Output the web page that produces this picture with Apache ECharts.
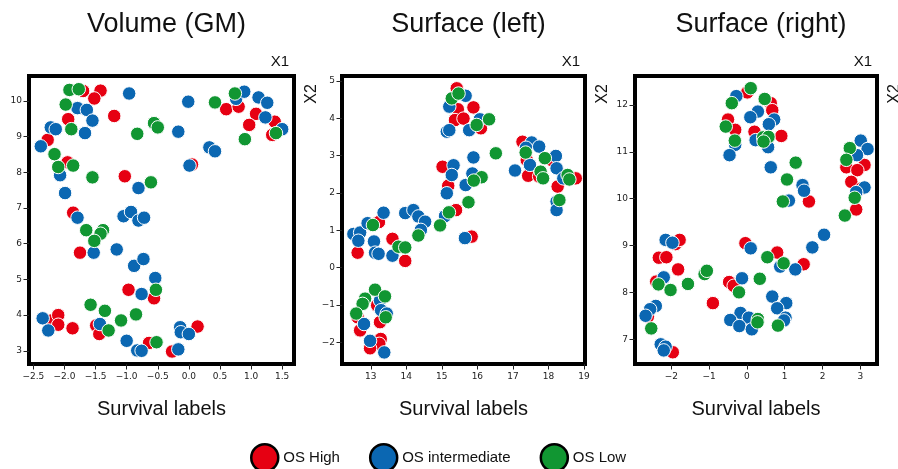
<!DOCTYPE html>
<html>
<head>
<meta charset="utf-8">
<script src="https://cdn.jsdelivr.net/npm/echarts@6/dist/echarts.min.js"></script>
<style>html,body{margin:0;padding:0;background:#fff}#c{width:898px;height:469px}</style>
</head>
<body>
<div id="c"></div>
<script>
// ---------- data ----------
const panelTitles = ['Volume (GM)', 'Surface (left)', 'Surface (right)'];
const classNames = ['OS High', 'OS intermediate', 'OS Low'];
const classColors = ['#e60012', '#0b67b2', '#119632'];

const volHigh = [[-1.70,10.28],[-1.42,10.29],[-1.52,10.07],[-1.20,9.58],[-1.94,9.49],[-2.27,8.91],[-1.95,8.28],[-1.03,7.89],[0.05,8.22],[0.60,9.77],[0.80,9.84],[1.08,9.64],[0.97,9.33],[1.38,9.42],[1.34,9.05],[-1.86,6.87],[-1.75,5.75],[-0.97,4.71],[-0.56,4.47],[-2.21,3.85],[-2.10,4.00],[-2.10,3.73],[-1.87,3.63],[-1.49,3.71],[-1.44,3.47],[-0.64,3.22],[-0.27,2.98],[0.14,3.68]];
const volInter = [[-1.79,9.80],[-1.64,9.75],[-0.96,10.21],[-1.55,9.45],[-2.22,9.26],[-2.14,9.21],[-1.67,9.10],[-2.38,8.73],[-2.07,7.92],[-1.99,7.42],[-0.81,7.56],[-0.17,9.14],[-0.01,9.98],[0.01,8.19],[0.33,8.70],[0.42,8.59],[0.76,10.06],[0.89,10.26],[1.12,10.10],[1.26,9.95],[1.23,9.54],[1.50,9.21],[-1.79,6.73],[-1.05,6.77],[-0.93,6.89],[-0.81,6.65],[-0.72,6.73],[-1.53,5.75],[-1.16,5.84],[-0.88,5.38],[-0.73,5.57],[-0.54,5.04],[-0.76,4.59],[-2.35,3.91],[-2.26,3.57],[-1.43,3.75],[-1.00,3.28],[-0.83,3.01],[-0.76,3.00],[-0.17,3.04],[-0.14,3.66],[-0.13,3.52],[0.00,3.47]];
const volLow = [[-1.92,10.31],[-1.77,10.33],[-1.98,9.90],[-1.89,9.21],[-2.16,8.51],[-2.10,8.15],[-1.86,8.19],[-1.55,7.86],[-0.61,7.72],[-0.56,9.38],[-0.50,9.26],[-0.83,9.08],[0.42,9.96],[0.74,10.21],[1.40,9.10],[0.90,8.93],[-1.65,6.38],[-1.38,6.38],[-1.42,6.28],[-1.52,6.08],[-0.53,4.71],[-1.58,4.29],[-1.35,4.12],[-0.85,4.02],[-1.09,3.85],[-1.29,3.57],[-0.52,3.24]];

const leftHigh = [[15.42,4.80],[15.45,4.24],[15.89,4.29],[15.37,3.95],[15.61,3.99],[16.10,3.73],[15.02,2.70],[15.18,2.19],[15.40,1.54],[15.84,0.83],[12.63,0.40],[13.23,1.22],[13.61,0.77],[13.97,0.18],[13.18,-1.01],[12.63,-1.33],[13.26,-1.46],[12.70,-1.68],[13.28,-1.91],[13.24,-2.04],[12.98,-2.16],[17.27,3.37],[17.39,2.88],[17.43,2.46],[18.09,2.88],[17.74,2.44],[18.77,2.39],[18.26,2.17]];
const leftInter = [[15.67,4.60],[15.21,4.31],[15.14,3.64],[15.21,3.68],[15.77,3.68],[16.07,3.97],[15.33,2.74],[15.28,2.48],[15.14,1.99],[15.89,2.95],[15.86,2.52],[15.67,2.21],[15.09,1.38],[15.65,0.79],[12.51,0.90],[12.70,0.94],[12.65,0.72],[12.91,1.19],[13.36,1.47],[13.09,0.70],[13.12,0.40],[13.22,0.37],[13.61,0.32],[13.97,1.46],[14.20,1.54],[14.34,1.37],[14.53,1.23],[14.41,1.01],[13.26,-0.88],[13.29,-1.14],[13.45,-1.23],[12.81,-1.51],[12.98,-1.96],[13.38,-2.27],[17.53,3.35],[17.37,3.21],[17.48,2.75],[17.06,2.60],[17.74,3.24],[18.21,2.99],[18.23,2.66],[18.42,2.39],[18.23,1.77],[18.23,1.54]];
const leftLow = [[15.28,4.53],[15.47,4.66],[15.98,3.82],[16.33,3.97],[16.12,2.42],[15.90,2.33],[16.52,3.06],[15.75,1.75],[15.20,1.48],[14.95,1.13],[13.06,1.14],[13.78,0.56],[13.97,0.54],[14.34,0.86],[13.12,-0.59],[12.84,-0.83],[12.77,-0.97],[13.40,-0.77],[12.59,-1.23],[13.42,-1.33],[17.36,3.08],[17.90,2.93],[17.78,2.57],[17.85,2.39],[18.54,2.48],[18.59,2.36],[18.31,1.81]];

const rightHigh = [[0.01,12.27],[0.63,12.04],[0.67,11.89],[-0.50,11.69],[-0.31,11.47],[0.20,11.43],[0.91,11.34],[1.64,9.94],[2.63,10.67],[3.11,10.72],[2.92,10.61],[2.76,10.36],[3.03,10.22],[2.89,9.77],[-0.04,9.05],[0.80,8.85],[1.50,8.60],[-0.47,8.22],[-0.35,8.14],[-0.90,7.77],[-1.89,9.03],[-1.78,9.12],[-2.33,8.74],[-2.13,8.75],[-1.82,8.49],[-2.40,8.23],[-2.62,7.48],[-1.96,6.72]];
const rightInter = [[-0.28,12.19],[0.29,11.86],[0.09,11.74],[0.72,11.69],[0.58,11.59],[0.23,11.25],[-0.31,11.15],[0.56,11.10],[-0.46,10.93],[0.63,10.67],[1.47,10.29],[1.51,10.17],[1.11,9.96],[3.01,11.24],[3.19,11.06],[2.91,10.93],[3.11,10.24],[2.89,10.14],[2.04,9.23],[1.73,8.96],[0.10,8.94],[0.88,8.55],[1.28,8.49],[-0.13,8.30],[0.67,7.91],[1.04,7.77],[0.80,7.66],[-0.17,7.56],[0.05,7.46],[-0.44,7.41],[-0.20,7.28],[0.13,7.21],[1.02,7.46],[0.98,7.40],[-2.15,9.12],[-1.97,9.06],[-2.20,8.32],[-2.41,7.71],[-2.56,7.64],[-2.68,7.50],[-2.28,6.89],[-2.15,6.84],[-2.20,6.76]];
const rightLow = [[0.10,12.36],[-0.40,12.04],[0.47,12.13],[-0.56,11.54],[0.43,11.31],[0.57,11.32],[-0.32,11.24],[0.44,11.22],[1.29,10.77],[1.06,10.41],[0.95,9.94],[2.72,11.08],[2.63,10.83],[2.85,10.02],[2.59,9.64],[0.54,8.75],[0.97,8.62],[0.34,8.29],[-0.21,8.00],[-1.12,8.39],[-1.06,8.46],[0.29,7.43],[0.28,7.36],[0.82,7.29],[-2.34,8.17],[-2.02,8.05],[-1.56,8.18],[-2.53,7.23]];

const volXTicks = [-2.5,-2.0,-1.5,-1.0,-0.5,0.0,0.5,1.0,1.5];
const volYTicks = [3,4,5,6,7,8,9,10];
const leftXTicks = [13,14,15,16,17,18,19];
const leftYTicks = [-2,-1,0,1,2,3,4,5];
const rightXTicks = [-2,-1,0,1,2,3];
const rightYTicks = [7,8,9,10,11,12];

// ---------- layout ----------
const panels = [
  {grid:{left:29, top:76, width:265, height:288}, x:[-2.57,1.69], y:[2.63,10.70], xt:volXTicks, yt:volYTicks, dec:1, data:[volHigh,volInter,volLow]},
  {grid:{left:342, top:76, width:243, height:288}, x:[12.19,19.03], y:[-2.58,5.13], xt:leftXTicks, yt:leftYTicks, dec:0, data:[leftHigh,leftInter,leftLow]},
  {grid:{left:635, top:76, width:242, height:288}, x:[-2.96,3.44], y:[6.47,12.62], xt:rightXTicks, yt:rightYTicks, dec:0, data:[rightHigh,rightInter,rightLow]}
];
const fmt = (v, d) => (d ? v.toFixed(d) : String(Math.round(v))).replace('-', '\u2212');
const tickFont = {fontFamily:'DejaVu Sans', fontSize:9, color:'#222'};
const labelFont = 'Liberation Sans, Arial, sans-serif';

const grids = [], xAxes = [], yAxes = [], series = [], titles = [], graphics = [];
panels.forEach((p, i) => {
  grids.push(Object.assign({show:true, borderColor:'#000', borderWidth:4, backgroundColor:'#fff'}, p.grid));
  xAxes.push({type:'value', gridIndex:i, position:'bottom', min:p.x[0], max:p.x[1], splitLine:{show:false},
    axisLine:{show:false, onZero:false},
    axisTick:{show:true, inside:false, length:5.5, customValues:p.xt, lineStyle:{color:'#222', width:1}},
    axisLabel:Object.assign({margin:8, customValues:p.xt, formatter:v=>fmt(v,p.dec)}, tickFont)});
  yAxes.push({type:'value', gridIndex:i, position:'left', min:p.y[0], max:p.y[1], splitLine:{show:false},
    axisLine:{show:false, onZero:false},
    axisTick:{show:true, inside:false, length:5.5, customValues:p.yt, lineStyle:{color:'#222', width:1}},
    axisLabel:Object.assign({margin:7, customValues:p.yt, formatter:v=>fmt(v,0)}, tickFont)});
  p.data.forEach((d, k) => {
    series.push({type:'scatter', name:classNames[k], xAxisIndex:i, yAxisIndex:i, data:d,
      symbol:'circle', symbolSize:13.5,
      itemStyle:{color:classColors[k], borderColor:'#fff', borderWidth:1, opacity:1},
      emphasis:{disabled:true}, z:2});
  });
  const cx = p.grid.left + p.grid.width/2;
  const right = p.grid.left + p.grid.width;
  titles.push({text:panelTitles[i], left:cx, top:6, textAlign:'center',
    textStyle:{fontFamily:labelFont, fontSize:27, fontWeight:'normal', color:'#111'}});
  graphics.push({type:'text', x:right-5, y:62, style:{text:'X1', fill:'#111', font:'15px '+labelFont, align:'right', verticalAlign:'middle'}});
  graphics.push({type:'text', x:cx, y:409, style:{text:'Survival labels', fill:'#111', font:'20px '+labelFont, align:'center', verticalAlign:'middle'}});
  graphics.push({type:'text', x:right + 18, y:94, rotation:Math.PI/2, style:{text:'X2', fill:'#111', font:'16px '+labelFont, align:'center', verticalAlign:'middle'}});
});

const chart = echarts.init(document.getElementById('c'), null, {renderer:'canvas'});
chart.setOption({
  animation:false,
  backgroundColor:'#fff',
  title:titles,
  grid:grids, xAxis:xAxes, yAxis:yAxes, series:series,
  legend:{data:classNames, left:250, top:443, padding:0, icon:'circle', itemWidth:27, itemHeight:27, itemGap:29,
    selectedMode:false,
    itemStyle:{borderColor:'#000', borderWidth:2.5},
    textStyle:{fontFamily:labelFont, fontSize:15, color:'#111'}},
  graphic:graphics
});
</script>
</body>
</html>
